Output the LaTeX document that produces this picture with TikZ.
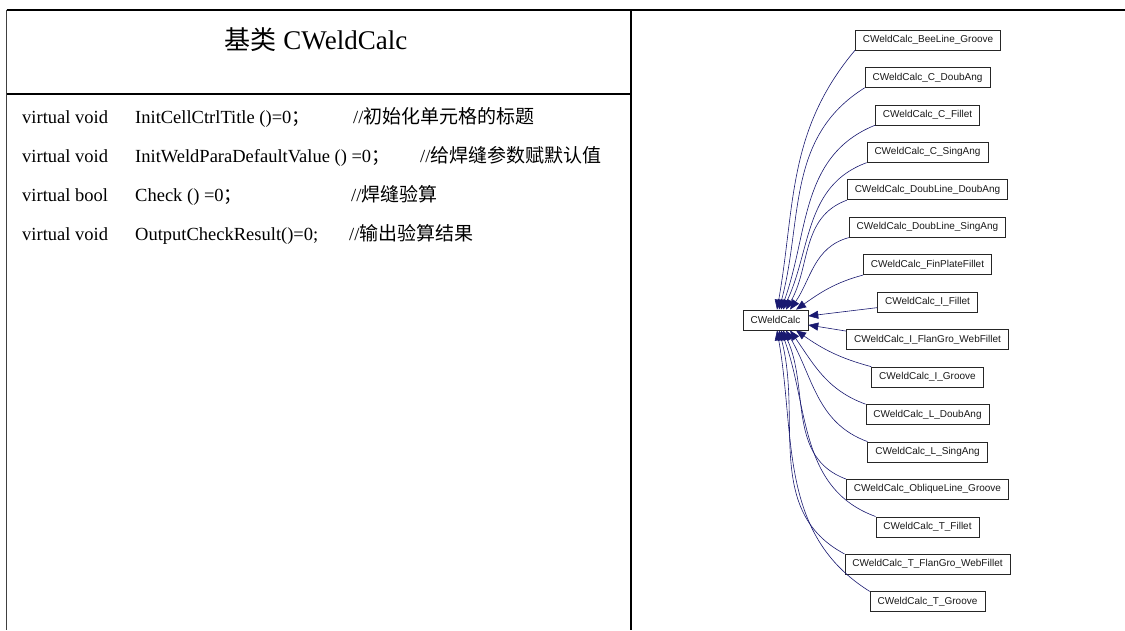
\documentclass[tikz,border=0pt]{standalone}
\usepackage{fontspec}
\setmainfont{Liberation Serif}
\newfontfamily\cjk{Noto Sans CJK SC}
\newfontfamily\arialf{Liberation Sans}
\usetikzlibrary{arrows.meta}
\definecolor{edgeblue}{HTML}{191970}
\begin{document}
\begin{tikzpicture}[x=1pt,y=1pt,
  cls/.style={draw=black!85, line width=0.7pt, fill=white, text=black!90,
    font=\arialf\fontsize{10}{11}\selectfont, inner xsep=7.5pt, inner ysep=0pt,
    minimum height=20pt},
  inh/.style={draw=edgeblue, line width=0.6pt, -{Triangle[length=10pt,width=8pt]}},
  rule/.style={draw=black, line width=1.2pt},
  body/.style={anchor=base west, inner sep=0pt, font=\fontsize{18.5}{20}\selectfont},
]
\useasboundingbox (0,0) rectangle (1125,630);
% table frame
\coordinate (tl) at (6.5,620);
\coordinate (tr) at (1125,620);
\coordinate (bl) at (6.5,0);
\coordinate (mt) at (631,620);
\coordinate (mb) at (631,0);
\coordinate (hl) at (6.5,536);
\coordinate (hr) at (631,536);
\draw[rule] (tl) -- (tr);
\draw[draw=black!75, line width=1.5pt] (tl) -- (bl);
\draw[rule] (mt) -- (mb);
\draw[rule] (hl) -- (hr);
% title
\node[inner sep=0pt] (title) at (316,590) {{\cjk\fontsize{26}{28}\selectfont 基类}\fontsize{27}{28}\selectfont\ CWeldCalc};
% body lines
\node[body] (v1) at (22,506) {virtual void};
\node[body] (f1) at (135,506) {InitCellCtrlTitle ()=0{\cjk ；}};
\node[body] (k1) at (353,506) {//{\cjk\fontsize{19}{20}\selectfont 初始化单元格的标题}};
\node[body] (v2) at (22,467) {virtual void};
\node[body] (f2) at (135,467) {InitWeldParaDefaultValue () =0{\cjk ；}};
\node[body] (k2) at (420,467) {//{\cjk\fontsize{19}{20}\selectfont 给焊缝参数赋默认值}};
\node[body] (v3) at (22,428.5) {virtual bool};
\node[body] (f3) at (135,428.5) {Check () =0{\cjk ；}};
\node[body] (k3) at (351,428.5) {//{\cjk\fontsize{19}{20}\selectfont 焊缝验算}};
\node[body] (v4) at (22,389.5) {virtual void};
\node[body] (f4) at (135,389.5) {OutputCheckResult()=0;};
\node[body] (k4) at (349,389.5) {//{\cjk\fontsize{19}{20}\selectfont 输出验算结果}};
% class graph
\node[cls] (cw) at (775.5,310) {CWeldCalc};
\node[cls] (c1) at (928,590) {CWeldCalc\_BeeLine\_Groove};
\node[cls] (c2) at (927.5,552.55) {CWeldCalc\_C\_DoubAng};
\node[cls] (c3) at (927.5,515.1) {CWeldCalc\_C\_Fillet};
\node[cls] (c4) at (927.5,477.65) {CWeldCalc\_C\_SingAng};
\node[cls] (c5) at (927.5,440.2) {CWeldCalc\_DoubLine\_DoubAng};
\node[cls] (c6) at (927.5,402.75) {CWeldCalc\_DoubLine\_SingAng};
\node[cls] (c7) at (927.5,365.3) {CWeldCalc\_FinPlateFillet};
\node[cls] (c8) at (927.5,327.85) {CWeldCalc\_I\_Fillet};
\node[cls] (c9) at (927.5,290.4) {CWeldCalc\_I\_FlanGro\_WebFillet};
\node[cls] (c10) at (927.5,252.95) {CWeldCalc\_I\_Groove};
\node[cls] (c11) at (927.5,215.5) {CWeldCalc\_L\_DoubAng};
\node[cls] (c12) at (927.5,178.05) {CWeldCalc\_L\_SingAng};
\node[cls] (c13) at (927.5,140.6) {CWeldCalc\_ObliqueLine\_Groove};
\node[cls] (c14) at (927.5,103.15) {CWeldCalc\_T\_Fillet};
\node[cls] (c15) at (927.5,65.7) {CWeldCalc\_T\_FlanGro\_WebFillet};
\node[cls] (c16) at (927.5,28.25) {CWeldCalc\_T\_Groove};
% inheritance edges
\foreach \n/\o/\i/\s in {c1/230/80/1.5, c2/212/75/3.5, c3/202/70/5.5, c4/200/65/7.5,
    c5/200/60/10.5, c6/195/55/14.5, c7/195/35/20.5}
  \draw[inh] (\n.south west) to[out=\o,in=\i] ([xshift=\s pt]cw.north);
\draw[inh] ([yshift=-5.5pt]c8.west) -- ([yshift=4pt]cw.east);
\draw[inh] ([yshift=8.5pt]c9.west) -- ([yshift=-5pt]cw.east);
\foreach \n/\o/\i/\s in {c10/165/-35/20.5, c11/160/-55/14.5, c12/160/-60/10.5,
    c13/160/-65/7.5, c14/160/-70/5.5, c15/152/-75/3.5, c16/148/-80/1.5}
  \draw[inh] (\n.north west) to[out=\o,in=\i] ([xshift=\s pt]cw.south);
\end{tikzpicture}
\end{document}
